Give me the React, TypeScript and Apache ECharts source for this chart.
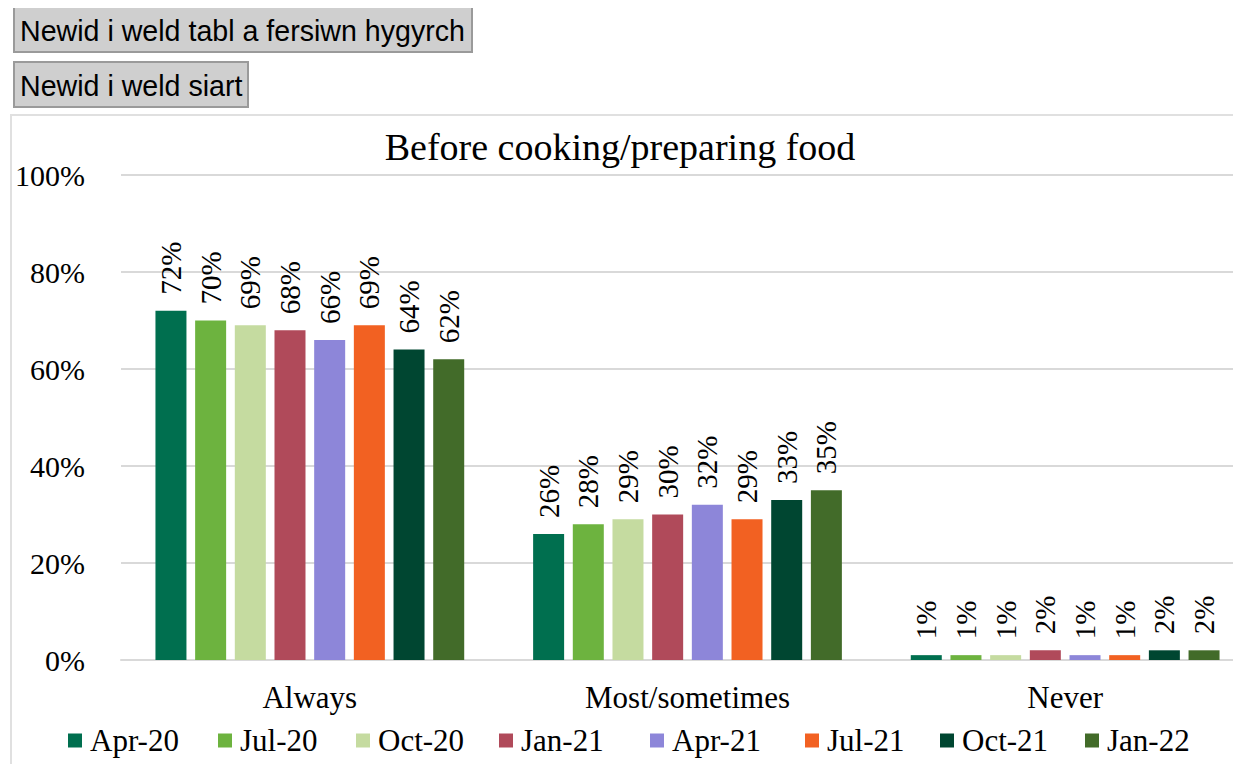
import React, { useEffect, useRef } from "react";
import * as echarts from "echarts";

const categories = ["Always", "Most/sometimes", "Never"];
const seriesNames = ["Apr-20", "Jul-20", "Oct-20", "Jan-21", "Apr-21", "Jul-21", "Oct-21", "Jan-22"];
const apr20 = [72, 26, 1];
const jul20 = [70, 28, 1];
const oct20 = [69, 29, 1];
const jan21 = [68, 30, 2];
const apr21 = [66, 32, 1];
const jul21 = [69, 29, 1];
const oct21 = [64, 33, 2];
const jan22 = [62, 35, 2];
const seriesValues = [apr20, jul20, oct20, jan21, apr21, jul21, oct21, jan22];
const colors = ["#006f4f", "#6db33f", "#c5dba0", "#b04a5a", "#8d86d9", "#f26122", "#004631", "#426b29"];
const title = "Before cooking/preparing food";

// layout: left edge of each legend marker (relative to chart div)
const legendLeft = [56, 206, 344, 487, 638, 793, 928, 1073];

const SERIF = "'Liberation Serif', 'Times New Roman', serif";
const SANS = "'Liberation Sans', Arial, sans-serif";

export default function App() {
  const ref = useRef<HTMLDivElement>(null);
  useEffect(() => {
    if (!ref.current) return;
    const chart = echarts.init(ref.current, undefined, { renderer: "svg" });
    chart.setOption({
      animation: false,
      textStyle: { fontFamily: SERIF, color: "#000" },
      graphic: [
        {
          type: "text",
          x: 608,
          y: 31,
          style: { text: title, fontFamily: SERIF, fontSize: 38, fill: "#000", textAlign: "center", textVerticalAlign: "middle" },
        },
      ],
      legend: seriesNames.map((name, i) => ({
        data: [name],
        left: legendLeft[i],
        top: 609,
        padding: 0,
        itemWidth: 14,
        itemHeight: 14,
        icon: "rect",
        textStyle: { fontFamily: SERIF, fontSize: 31, color: "#000", padding: [0, 0, 0, 3] },
      })),
      grid: { left: 109, right: 18, top: 59, height: 485, containLabel: false },
      xAxis: {
        type: "category",
        data: categories,
        axisTick: { show: false },
        axisLine: { lineStyle: { color: "#d9d9d9", width: 2 } },
        axisLabel: { fontFamily: SERIF, fontSize: 31, color: "#000", margin: 22 },
      },
      yAxis: {
        type: "value",
        min: 0,
        max: 100,
        interval: 20,
        axisLine: { show: false },
        axisTick: { show: false },
        splitLine: { lineStyle: { color: "#d9d9d9", width: 2 } },
        axisLabel: { fontFamily: SERIF, fontSize: 30, color: "#000", margin: 36, formatter: "{value}%" },
      },
      series: seriesNames.map((name, i) => ({
        name,
        type: "bar",
        data: seriesValues[i],
        barWidth: 31,
        barGap: "28%",
        itemStyle: { color: colors[i] },
        label: {
          show: true,
          position: "top",
          rotate: 90,
          align: "left",
          verticalAlign: "middle",
          distance: 16,
          formatter: "{c}%",
          fontFamily: SERIF,
          fontSize: 29,
          color: "#000",
        },
      })),
    });
    return () => chart.dispose();
  }, []);

  const btn: React.CSSProperties = {
    position: "absolute",
    left: 13,
    height: 47,
    boxSizing: "border-box",
    background: "#cfcfcf",
    border: "2px solid #9a9a9a",
    fontFamily: SANS,
    fontSize: 28.6,
    color: "#000",
    padding: "0 5px",
    lineHeight: "46px",
    whiteSpace: "nowrap",
  };

  return (
    <div style={{ position: "relative", margin: "-8px", width: 1241, height: 772, overflow: "hidden" }}>
      <div style={{ ...btn, top: 6, width: 460 }}>Newid i weld tabl a fersiwn hygyrch</div>
      <div style={{ ...btn, top: 61, width: 236 }}>Newid i weld siart</div>
      <div
        style={{
          position: "absolute",
          left: 10,
          top: 114,
          width: 1300,
          height: 720,
          border: "2px solid #e0e0e0",
          boxSizing: "border-box",
        }}
      />
      <div ref={ref} style={{ position: "absolute", left: 12, top: 116, width: 1260, height: 660 }} />
    </div>
  );
}
